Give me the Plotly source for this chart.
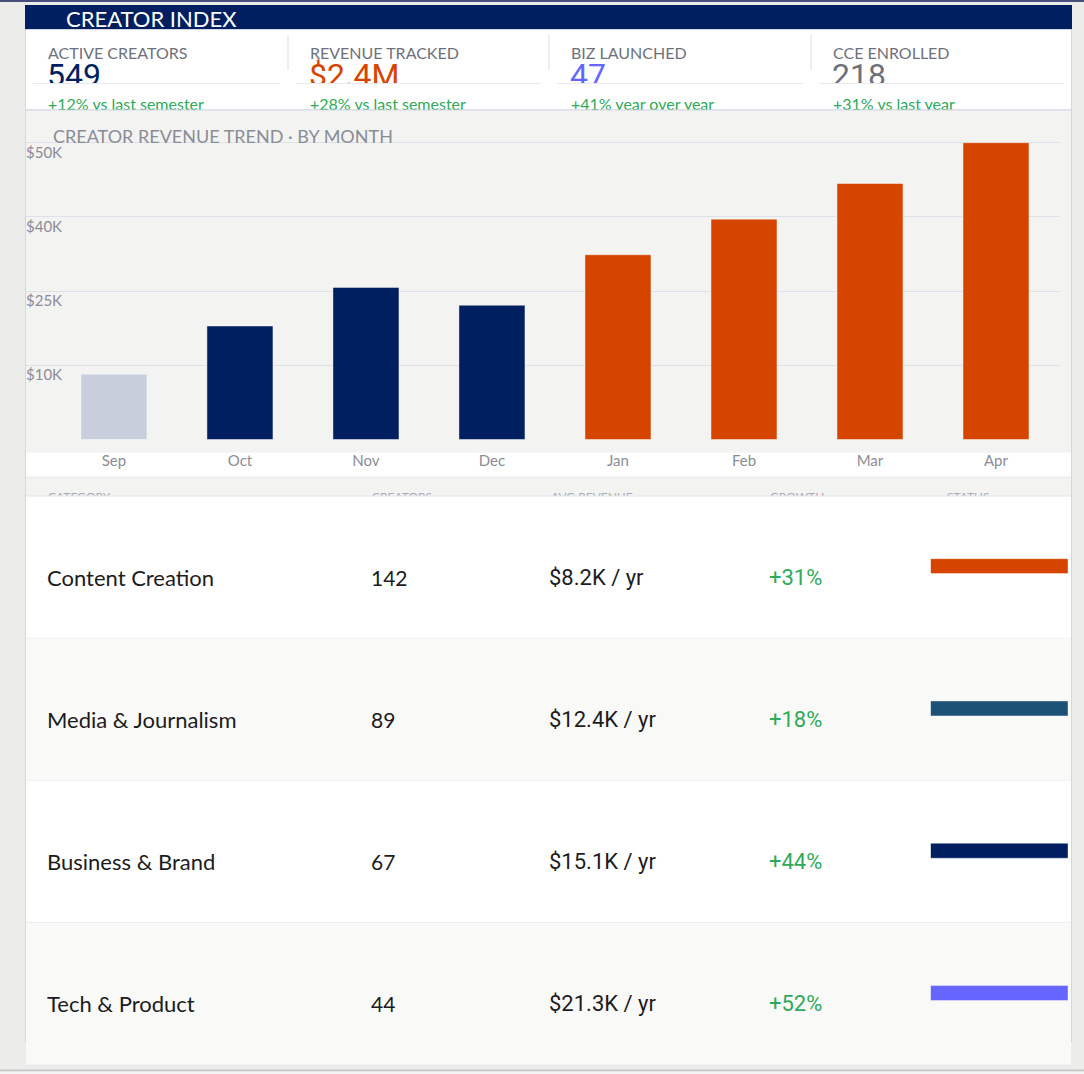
import plotly.graph_objects as go

W, H = 1084, 1074

# ---- data ----
months = ["Sep", "Oct", "Nov", "Dec", "Jan", "Feb", "Mar", "Apr"]
revenue_k = [8.8, 15.3, 20.5, 18.1, 24.9, 29.7, 34.5, 40.0]
period = ["prior", "fall", "fall", "fall", "spring", "spring", "spring", "spring"]
ytick_vals = [10, 20, 30, 40]
ytick_text = ["$10K", "$25K", "$40K", "$50K"]

kpi_labels = ["ACTIVE CREATORS", "REVENUE TRACKED", "BIZ LAUNCHED", "CCE ENROLLED"]
kpi_values = ["549", "$2.4M", "47", "218"]
kpi_deltas = ["+12% vs last semester", "+28% vs last semester",
              "+41% year over year", "+31% vs last year"]

table_headers = ["CATEGORY", "CREATORS", "AVG REVENUE", "GROWTH", "STATUS"]
categories = ["Content Creation", "Media & Journalism", "Business & Brand", "Tech & Product"]
creators = [142, 89, 67, 44]
avg_revenue = ["$8.2K / yr", "$12.4K / yr", "$15.1K / yr", "$21.3K / yr"]
growth = ["+31%", "+18%", "+44%", "+52%"]
status_level = [1.0, 1.0, 1.0, 1.0]

# ---- styles ----
NAVY = "#001f60"
ORANGE = "#d64500"
GREEN = "#2eaa5a"
GREY_TXT = "#6e717b"
PANEL = "#f3f3f1"
BORDER = "#d3d7e3"
period_colors = {"prior": "#c8cedc", "fall": NAVY, "spring": ORANGE}
kpi_colors = [NAVY, ORANGE, "#6666ff", GREY_TXT]
status_colors = {"Content Creation": ORANGE, "Media & Journalism": "#1b5276",
                 "Business & Brand": NAVY, "Tech & Product": "#6666ff"}

card_x = [25, 288, 549, 811, 1072]
text_x = [48, 310, 571, 833]
col_x = [47, 371, 549, 769]
header_x = [48, 372, 551, 770, 947]
row_top, row_h = 496, 142.3


def fx(x):
    return x / W


def fy(y):
    return 1 - y / H


def rect(x0, y0, x1, y1, fill, line=None, layer="below"):
    return dict(type="rect", xref="paper", yref="paper",
                x0=fx(x0), x1=fx(x1), y0=fy(y1), y1=fy(y0),
                fillcolor=fill, layer=layer,
                line=dict(width=1 if line else 0, color=line or fill))


def hline(x0, x1, y, color, layer="below"):
    return dict(type="line", xref="paper", yref="paper", layer=layer,
                x0=fx(x0), x1=fx(x1), y0=fy(y), y1=fy(y),
                line=dict(color=color, width=1))


def vline(x, y0, y1, color, layer="below"):
    return dict(type="line", xref="paper", yref="paper", layer=layer,
                x0=fx(x), x1=fx(x), y0=fy(y0), y1=fy(y1),
                line=dict(color=color, width=1))


fig = go.Figure()

# revenue bars
fig.add_trace(go.Bar(
    x=months, y=revenue_k,
    marker=dict(color=[period_colors[p] for p in period],
                line=dict(color="rgba(255,255,255,0.45)", width=1)),
    xaxis="x", yaxis="y", hoverinfo="skip", showlegend=False,
))

# status bars in the table
fig.add_trace(go.Bar(
    x=status_level, y=categories, orientation="h", width=0.105,
    marker=dict(color=[status_colors[c] for c in categories],
                line=dict(color="rgba(255,255,255,0.4)", width=1)),
    xaxis="x3", yaxis="y3", hoverinfo="skip", showlegend=False,
))

# text that is partly hidden by panels above it (drawn as traces so shapes can cover it)
def pixel_text(xs, ys, texts, size, colors, family):
    fig.add_trace(go.Scatter(
        x=xs, y=ys, text=texts, mode="text", textposition="middle right",
        textfont=dict(size=size, color=colors, family=family),
        xaxis="x2", yaxis="y2", hoverinfo="skip", showlegend=False, cliponaxis=False,
    ))

pixel_text([x - 1 for x in text_x], [78] * 4, kpi_values, 32, kpi_colors, "Roboto")
pixel_text(text_x, [105.5] * 4, kpi_deltas, 16, [GREEN] * 4, "Lato")
pixel_text(header_x, [497.5] * 5, table_headers, 12, ["#a9acb6"] * 5, "Lato")

shapes = [
    rect(0, 0, W, 2, "#46507a"),
    rect(25, 5, 1072, 29.5, NAVY),
    rect(25.5, 29.5, 1071.5, 110, "white", BORDER),
    rect(26, 110, 1071, 452.5, PANEL),
    rect(26, 452.5, 1071, 477.3, "white"),
    hline(26, 1071, 477.3, BORDER),
    rect(26, 477.3, 1071, 496, PANEL),
    vline(25.5, 110, 1042, BORDER),
    vline(1071.5, 110, 1042, BORDER),
    rect(0, 1069.5, W, 1071.5, "#c6c6c6"),
    rect(0, 1071.5, W, H, "#f3f3f3"),
]
for x in card_x[1:4]:
    shapes.append(vline(x, 35, 70, "#dcdde2"))
for i in range(len(categories)):
    y0 = row_top + i * row_h
    shapes.append(rect(26, y0, 1071, y0 + row_h, "white" if i % 2 == 0 else "#f9f9f7"))
    shapes.append(hline(26, 1071, y0 + row_h, "#e1e3ea"))

# covers that clip the kpi values, the deltas and the table header
for i in range(4):
    shapes.append(rect(card_x[i] + 8, 83.5, card_x[i + 1] - 8, 94, "white", layer="above"))
    shapes.append(hline(card_x[i] + 8, card_x[i + 1] - 8, 83.5, "#e8e8ed", layer="above"))
shapes.append(rect(26, 110, 1071, 121, PANEL, layer="above"))
shapes.append(hline(25.5, 1071.5, 110, BORDER, layer="above"))
shapes.append(rect(26, 496, 1071, 512, "white", layer="above"))
shapes.append(hline(26, 1071, 496, "#e3e5ec", layer="above"))

annotations = [
    dict(text="CREATOR INDEX", x=fx(64), y=fy(18), xanchor="left", yanchor="middle",
         font=dict(family="Lato", size=22, color="white")),
    dict(text="CREATOR REVENUE TREND · BY MONTH", x=fx(51), y=fy(136),
         xanchor="left", yanchor="middle", font=dict(family="Lato", size=18, color="#8a8d96")),
]
for i, lab in enumerate(kpi_labels):
    annotations.append(dict(text=lab, x=fx(text_x[i] - 2), y=fy(52.5), xanchor="left", yanchor="middle",
                            font=dict(family="Lato", size=16, color=GREY_TXT)))
for v, t in zip(ytick_vals, ytick_text):
    annotations.append(dict(text=t, x=fx(24), xref="paper", y=v, yref="y",
                            xanchor="left", yanchor="top", yshift=2,
                            font=dict(family="Lato", size=15, color="#8a8d96")))
for i, cat in enumerate(categories):
    yc = fy(row_top + i * row_h + 81)
    cells = [cat, str(creators[i]), avg_revenue[i], growth[i]]
    fams = ["Lato", "Lato", "Roboto", "Roboto"]
    cols = ["#1c1c1e", "#1c1c1e", "#1c1c1e", GREEN]
    sizes = [22, 21, 22, 22]
    for j, c in enumerate(cells):
        annotations.append(dict(text=c, x=fx(col_x[j] - 2), y=yc, xanchor="left", yanchor="middle",
                                font=dict(family=fams[j], size=sizes[j], color=cols[j])))
for a in annotations:
    a.setdefault("xref", "paper")
    a.setdefault("yref", "paper")
    a["showarrow"] = False

# plot area: x 26..1060 px, y 135..449.5 px ; baseline at 439.5 px, 74.2 px per 10 units
step_px = 7.42
plot_bottom = 449.5
y_lo = -(plot_bottom - 439.5) / step_px
y_hi = 40 + (142.7 - 135) / step_px

fig.update_layout(
    width=W, height=H,
    margin=dict(l=0, r=0, t=0, b=0, pad=0),
    paper_bgcolor="#ececea",
    plot_bgcolor="rgba(0,0,0,0)",
    bargap=0.476,
    shapes=shapes,
    annotations=annotations,
    font=dict(family="Lato"),
    xaxis=dict(domain=[fx(26), fx(1060)], type="category", range=[-0.698, 7.508],
               showgrid=False, showline=False, ticks="", zeroline=False, ticklabelstandoff=0,
               tickfont=dict(family="Lato", size=15, color="#8a8d96"), anchor="y", fixedrange=True),
    yaxis=dict(domain=[fy(plot_bottom), fy(135)], range=[y_lo, y_hi], tickvals=ytick_vals,
               showticklabels=False, showgrid=True, gridcolor="#dfe1ea", gridwidth=1,
               zeroline=False, showline=False, anchor="x", fixedrange=True),
    xaxis2=dict(domain=[0, 1], range=[0, W], visible=False, anchor="y2", fixedrange=True),
    yaxis2=dict(domain=[0, 1], range=[H, 0], visible=False, anchor="x2", fixedrange=True),
    xaxis3=dict(domain=[fx(930.5), fx(1068)], range=[0, 1], visible=False, anchor="y3", fixedrange=True),
    yaxis3=dict(domain=[fy(row_top + 4 * row_h - 1), fy(row_top - 1)], type="category",
                categoryorder="array", categoryarray=categories, autorange="reversed",
                visible=False, anchor="x3", fixedrange=True),
)

fig.write_html("out.html", config={"displayModeBar": False},
               post_script="document.body.style.margin='0';")
